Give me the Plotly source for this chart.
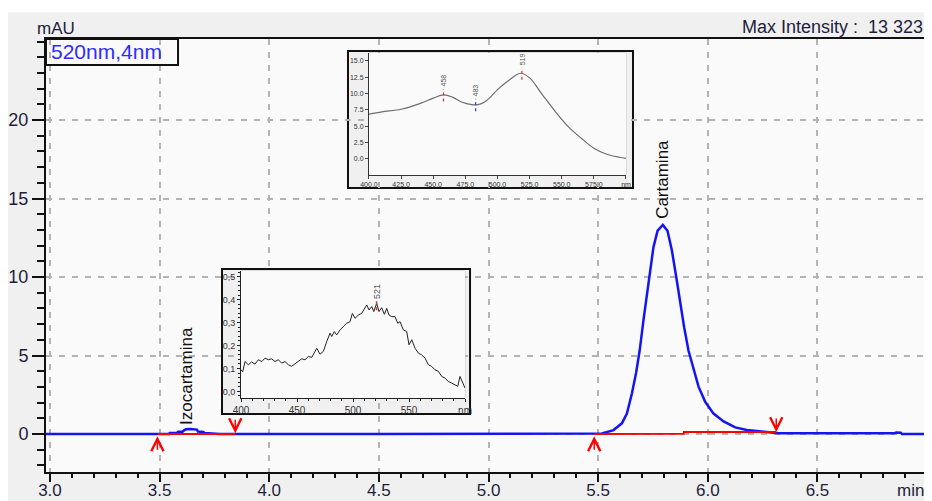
import plotly.graph_objects as go

# ---------------- data ----------------
# main chromatogram (520 nm) : time [min], absorbance [mAU]
time_min = [2.98, 3.50, 3.544, 3.546, 3.58, 3.585, 3.605, 3.61, 3.62, 3.64, 3.66, 3.67, 3.675, 3.70, 3.705,
            3.73, 3.76, 3.775, 4.50, 5.45, 5.517, 5.57, 5.608, 5.631, 5.654, 5.673, 5.689, 5.707, 5.722,
            5.737, 5.752, 5.771, 5.795, 5.816, 5.836, 5.856, 5.874, 5.892, 5.912, 5.935, 5.958, 5.988,
            6.026, 6.072, 6.125, 6.178, 6.247, 6.30, 6.32, 6.85, 6.86, 6.88, 6.885, 7.01]
absorb_mau = [0.0, 0.0, 0.0, 0.07, 0.08, 0.14, 0.15, 0.22, 0.30, 0.32, 0.30, 0.28, 0.16, 0.13, 0.07,
              0.06, 0.05, 0.0, 0.0, 0.0, 0.04, 0.25, 0.68, 1.3, 2.6, 3.9, 5.3, 7.3, 8.9,
              10.6, 11.9, 12.95, 13.32, 12.95, 11.7, 10.0, 8.3, 6.8, 5.3, 4.1, 3.0, 2.05,
              1.3, 0.8, 0.42, 0.25, 0.15, 0.12, 0.05, 0.05, 0.09, 0.08, 0.0, 0.0]

# integration baselines (red)
base_t = [3.49, 3.845, None, 5.482, 5.89, 5.891, 6.312]
base_y = [0.0, 0.0, None, 0.0, 0.02, 0.12, 0.12]
start_marks = [3.49, 5.482]
end_marks = [3.845, 6.312]
end_marks_y = [0.05, 0.12]

peak_names = ["Izocartamina", "Cartamina"]
peak_t = [3.625, 5.795]
peak_label_y = [0.45, 13.6]

x_ticks = [3.0, 3.5, 4.0, 4.5, 5.0, 5.5, 6.0, 6.5]
y_ticks = [0, 5, 10, 15, 20]

# UV-Vis spectrum of Cartamina peak (inset 1)
spec1_nm = [400, 410, 425, 440, 450, 458, 465, 472, 480, 485, 490, 495, 500, 510, 518,
            525, 535, 545, 555, 565, 575, 585, 595, 600]
spec1_abs = [6.84, 7.2, 7.6, 8.5, 9.3, 9.8, 9.45, 8.7, 8.3, 8.3, 8.7, 9.55, 10.6, 12.2, 13.1,
             12.4, 9.8, 7.25, 4.95, 3.2, 1.64, 0.72, 0.26, 0.1]
spec1_peaks = [458, 483, 519]
spec1_peak_y = [9.8, 8.3, 13.1]
spec1_tickvals = [400, 425, 450, 475, 500, 525, 550, 575, 600]
spec1_ticktext = ["400.0", "425.0", "450.0", "475.0", "500.0", "525.0", "550.0", "575.0", "nm"]
spec1_yticks = [0, 2.5, 5, 7.5, 10, 12.5, 15]
spec1_ytext = ["0.0", "2.5", "5.0", "7.5", "10.0", "12.5", "15.0"]

# UV-Vis spectrum of Izocartamina peak (inset 2)
spec2_nm = [400.0, 401.5, 403.6, 406.5, 409.5, 412.5, 415.5, 418.5, 421.4, 424.4, 427.4, 430.4, 433.3,
            436.3, 439.3, 442.3, 445.2, 448.2, 451.2, 454.2, 457.1, 460.1, 463.1, 466.1, 467.6,
            470.5, 473.5, 476.5, 479.5, 481.0, 483.3, 485.4, 488.4, 491.4, 494.3, 497.3, 499.4,
            501.8, 504.8, 507.7, 510.1, 512.2, 514.3, 516.7, 518.5, 521.1, 523.2, 525.6, 528.0,
            530.1, 532.1, 534.5, 537.5, 539.9, 542.0, 544.9, 547.9, 550.0, 552.4, 555.4, 558.3,
            561.3, 564.3, 567.3, 570.2, 573.2, 576.2, 579.2, 582.1, 585.1, 588.1, 591.1, 593.5,
            595.5, 597.6, 600.0]
spec2_abs = [0.094, 0.085, 0.130, 0.116, 0.128, 0.119, 0.138, 0.130, 0.145, 0.138, 0.142, 0.130, 0.138,
             0.123, 0.130, 0.116, 0.109, 0.120, 0.130, 0.142, 0.138, 0.152, 0.148, 0.177, 0.188,
             0.162, 0.174, 0.217, 0.254, 0.239, 0.261, 0.246, 0.268, 0.283, 0.297, 0.304, 0.340,
             0.319, 0.333, 0.340, 0.362, 0.377, 0.355, 0.370, 0.348, 0.384, 0.348, 0.365, 0.336,
             0.362, 0.333, 0.326, 0.326, 0.297, 0.304, 0.268, 0.261, 0.203, 0.225, 0.188, 0.167,
             0.159, 0.145, 0.116, 0.109, 0.094, 0.087, 0.065, 0.058, 0.043, 0.036, 0.029, 0.022,
             0.065, 0.043, 0.014]
spec2_peaks = [521]
spec2_peak_y = [0.384]
spec2_tickvals = [400, 450, 500, 550, 600]
spec2_ticktext = ["400", "450", "500", "550", "nm"]
spec2_yticks = [0, 0.1, 0.2, 0.3, 0.4, 0.5]
spec2_ytext = ["0,0", "0,1", "0,2", "0,3", "0,4", "0,5"]

# ---------------- figure ----------------
FONT = "Liberation Sans, Arial, sans-serif"
TXT = "#1e1e3c"
BLUE = "#1414f5"
RED = "#ff0000"

fig = go.Figure()

fig.add_trace(go.Scatter(x=time_min, y=absorb_mau, mode="lines",
                         line=dict(color=BLUE, width=2.5), xaxis="x", yaxis="y",
                         hoverinfo="skip", showlegend=False))
fig.add_trace(go.Scatter(x=base_t, y=base_y, mode="lines",
                         line=dict(color=RED, width=2), xaxis="x", yaxis="y",
                         hoverinfo="skip", showlegend=False))

fig.add_trace(go.Scatter(x=spec1_nm, y=spec1_abs, mode="lines", line=dict(color="#6e6e6e", width=1.2, shape="spline"),
                         xaxis="x2", yaxis="y2", hoverinfo="skip", showlegend=False))
fig.add_trace(go.Scatter(x=spec2_nm, y=spec2_abs, mode="lines", line=dict(color="#222222", width=1),
                         xaxis="x3", yaxis="y3", hoverinfo="skip", showlegend=False))

shapes = []
annotations = []

# white strip at the very top of the picture
shapes.append(dict(type="rect", xref="paper", yref="paper", x0=-0.2, x1=1.2, y0=1.062, y1=1.2,
                   layer="below", fillcolor="#ffffff", line=dict(width=0)))

# inset frames (drawn inside the inset subplots so they cover the main grid)
for ax, (fx0, fx1, fy0, fy1) in [("2", (-0.0817, 1.0272, -0.1066, 1.0164)),
                                  ("3", (-0.0848, 1.0223, -0.126, 1.0157))]:
    shapes.append(dict(type="rect", xref=f"x{ax} domain", yref=f"y{ax} domain",
                       x0=fx0, x1=fx1, y0=fy0, y1=fy1, layer="below",
                       fillcolor="#f0f0f0", line=dict(color="#111111", width=2)))
    shapes.append(dict(type="rect", xref=f"x{ax} domain", yref=f"y{ax} domain",
                       x0=0, x1=1, y0=0, y1=1, layer="below",
                       fillcolor="#ffffff", line=dict(color="#c8c8c8", width=1)))

# wavelength box
shapes.append(dict(type="rect", xref="paper", yref="paper", x0=0.0, x1=0.1497, y0=0.94, y1=1.0,
                   layer="above", fillcolor="rgba(0,0,0,0)", line=dict(color="#111111", width=2)))
annotations.append(dict(text="520nm,4nm", xref="paper", yref="paper", x=0.003, y=0.970,
                        xanchor="left", yanchor="middle", showarrow=False,
                        font=dict(family=FONT, size=21, color="#2d2dff")))

annotations.append(dict(text="mAU", xref="paper", yref="paper", x=-0.0125, y=1.0254,
                        xanchor="left", yanchor="middle", showarrow=False,
                        font=dict(family=FONT, size=17, color=TXT)))
annotations.append(dict(text="Max Intensity :  13 323", xref="paper", yref="paper", x=0.997, y=1.0277,
                        xanchor="right", yanchor="middle", showarrow=False,
                        font=dict(family=FONT, size=18, color=TXT)))
annotations.append(dict(text="min", xref="paper", yref="paper", x=0.9796, y=-0.0416,
                        xanchor="center", yanchor="middle", showarrow=False,
                        font=dict(family=FONT, size=17, color=TXT)))

# peak names
for name, t, yl in zip(peak_names, peak_t, peak_label_y):
    annotations.append(dict(text=name, x=t, y=yl, xref="x", yref="y", textangle=-90,
                            xanchor="center", yanchor="bottom", showarrow=False,
                            font=dict(family=FONT, size=17, color="#111111")))

# integration marks
for t in start_marks:
    annotations.append(dict(x=t, y=-0.15, xref="x", yref="y", ax=0, ay=15, text="",
                            showarrow=True, arrowhead=5, arrowsize=1.6, arrowwidth=1.5, arrowcolor=RED))
for t, yv in zip(end_marks, end_marks_y):
    annotations.append(dict(x=t, y=yv, xref="x", yref="y", ax=0, ay=-15, text="",
                            showarrow=True, arrowhead=5, arrowsize=1.6, arrowwidth=1.5, arrowcolor=RED))

# inset peak markers
mark_cols = ["#e03030", "#3030e0", "#e03030"]
for p, yv, c in zip(spec1_peaks, spec1_peak_y, mark_cols):
    shapes.append(dict(type="line", xref="x2", yref="y2", x0=p, x1=p, y0=yv - 1.0, y1=yv + 0.9,
                       line=dict(color=c, width=1.2, dash="dot")))
    annotations.append(dict(text=str(p), x=p, y=yv + 0.9, xref="x2", yref="y2", textangle=-90,
                            xanchor="center", yanchor="bottom", showarrow=False,
                            font=dict(family=FONT, size=7, color="#555555")))
for p, yv in zip(spec2_peaks, spec2_peak_y):
    shapes.append(dict(type="line", xref="x3", yref="y3", x0=p, x1=p, y0=yv - 0.03, y1=yv + 0.01,
                       line=dict(color="#e03030", width=1.5, dash="dot")))
    annotations.append(dict(text=str(p), x=p, y=yv + 0.01, xref="x3", yref="y3", textangle=-90,
                            xanchor="center", yanchor="bottom", showarrow=False,
                            font=dict(family=FONT, size=9, color="#555555")))

axis_common = dict(showline=True, linecolor="#111111", linewidth=2, mirror=True, zeroline=False,
                   automargin=False)
inset_common = dict(showgrid=False, showline=True, linewidth=1, zeroline=False, automargin=False)

fig.update_layout(
    width=924, height=493,
    margin=dict(l=38, r=4, t=31, b=29),
    paper_bgcolor="#f0f0f0", plot_bgcolor="#fafafa",
    font=dict(family=FONT, color=TXT),
    showlegend=False,
    xaxis=dict(range=[2.982, 7.004], tickmode="array", tickvals=x_ticks,
               ticktext=[f"{v:.1f}" for v in x_ticks],
               ticks="outside", ticklen=8, tickwidth=2, tickcolor="#111111", ticklabelstandoff=-6,
               minor=dict(dtick=0.1, tick0=3.0, ticks="outside", ticklen=4, tickwidth=2, tickcolor="#111111",
                          showgrid=False),
               showgrid=True, gridcolor="#b4b4b4", gridwidth=1.5, griddash="6px,7px",
               tickfont=dict(family=FONT, size=17, color=TXT), **axis_common),
    yaxis=dict(range=[-2.42, 25.16], tickmode="array", tickvals=y_ticks,
               ticks="outside", ticklen=12, tickwidth=2, tickcolor="#111111",
               minor=dict(dtick=1, tick0=0, ticks="outside", ticklen=7, tickwidth=2, tickcolor="#111111",
                          showgrid=False),
               showgrid=True, gridcolor="#b4b4b4", gridwidth=1.5, griddash="6px,7px",
               tickfont=dict(family=FONT, size=18, color=TXT), **axis_common),
    xaxis2=dict(domain=[0.3662, 0.6576], anchor="y2", range=[400, 600], tickmode="array",
                tickvals=spec1_tickvals, ticktext=spec1_ticktext, ticks="outside", ticklen=3,
                tickcolor="#444444", tickfont=dict(family=FONT, size=7, color="#333333"),
                linecolor="#333333", **inset_common),
    yaxis2=dict(domain=[0.6859, 0.9677], anchor="x2", range=[-2.45, 16.2], tickmode="array",
                tickvals=spec1_yticks, ticktext=spec1_ytext, ticks="outside", ticklen=3,
                tickcolor="#444444", tickfont=dict(family=FONT, size=7, color="#333333"),
                linecolor="#333333", **inset_common),
    xaxis3=dict(domain=[0.2211, 0.4751], anchor="y3", range=[400, 600], tickmode="array",
                tickvals=spec2_tickvals, ticktext=spec2_ticktext, ticks="outside", ticklen=3,
                tickcolor="#222222",
                minor=dict(dtick=10, tick0=400, ticks="outside", ticklen=2, tickcolor="#222222"),
                tickfont=dict(family=FONT, size=10, color="#333333"),
                linecolor="#222222", **inset_common),
    yaxis3=dict(domain=[0.1709, 0.4642], anchor="x3", range=[-0.029, 0.525], tickmode="array",
                tickvals=spec2_yticks, ticktext=spec2_ytext, ticks="outside", ticklen=3,
                tickcolor="#222222",
                minor=dict(dtick=0.02, tick0=0, ticks="outside", ticklen=2, tickcolor="#222222"),
                tickfont=dict(family=FONT, size=9, color="#333333"),
                linecolor="#222222", **inset_common),
    shapes=shapes,
    annotations=annotations,
)

fig.write_html("out.html")
